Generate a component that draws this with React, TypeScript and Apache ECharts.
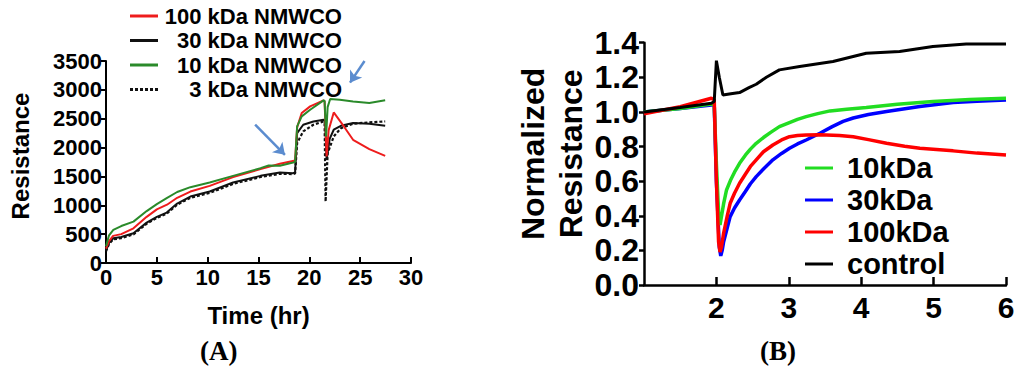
import React, { useEffect, useRef } from "react";
import * as echarts from "echarts";

// ---------- Panel A: Resistance vs Time (hr) ----------
const seriesNamesA = ["100 kDa NMWCO", "30 kDa NMWCO", "10 kDa NMWCO", "3 kDa NMWCO"];
const red100A: [number, number][] = [
  [0, 250], [0.3, 380], [0.7, 470], [1.5, 500], [2.7, 600], [4, 800], [5, 930], [6, 1010], [7, 1130],
  [8.3, 1238], [10.2, 1337], [12.5, 1488], [15.2, 1627], [17.1, 1719], [18.5, 1771], [18.6, 1780],
  [18.8, 2350], [19.25, 2598], [20.08, 2714], [21.4, 2818], [21.5, 2800], [21.7, 1845], [21.9, 2300],
  [22.4, 2609], [23.4, 2366], [24.3, 2135], [25.9, 1974], [27.46, 1857],
];
const black30A: [number, number][] = [
  [0, 220], [0.3, 350], [0.72, 428], [1.5, 450], [2.7, 515], [4, 700], [5, 800], [5.97, 874], [7, 1030],
  [8.3, 1152], [10.2, 1238], [12.5, 1394], [15.2, 1510], [17.1, 1568], [18.4, 1557], [18.6, 1570],
  [18.8, 2251], [19.4, 2396], [20.4, 2453], [21.4, 2483], [21.55, 2450], [21.7, 1788], [22, 2150],
  [22.4, 2309], [23.1, 2378], [24.3, 2425], [25.9, 2413], [27.46, 2378],
];
const green10A: [number, number][] = [
  [0, 290], [0.3, 480], [0.72, 573], [1.5, 640], [2.7, 717], [4, 900], [5, 1020], [5.97, 1123], [7, 1230],
  [8.3, 1314], [10.2, 1394], [12.5, 1510], [15.2, 1643], [16, 1690], [17.1, 1684], [18.4, 1741], [18.6, 1750],
  [18.8, 2366], [19.25, 2540], [20.08, 2656], [21.4, 2818], [21.5, 2810], [21.65, 2193], [21.8, 2700],
  [22.05, 2841], [23, 2830], [24.3, 2800], [25.9, 2772], [27.46, 2818],
];
const dashed3A: [number, number][] = [
  [0, 200], [0.3, 330], [0.72, 410], [1.5, 430], [2.7, 495], [4, 680], [5, 780], [5.97, 855], [7, 1010],
  [8.3, 1130], [10.2, 1215], [12.5, 1370], [15.2, 1490], [17.1, 1545], [18.4, 1540], [18.6, 1550],
  [18.8, 2078], [19.4, 2280], [20.4, 2396], [21.4, 2453], [21.5, 2420], [21.6, 1064], [21.8, 1900],
  [22.4, 2193], [23.1, 2336], [24.3, 2413], [25.9, 2437], [27.46, 2453],
];
// annotation arrows (start -> end), in data units of panel A
const arrowsA: [number, number, number, number][] = [
  [14.67, 2396, 17.6, 1875],
  [25.43, 3500, 24.0, 3125],
];

// ---------- Panel B: Normalized Resistance ----------
const seriesNamesB = ["10kDa", "30kDa", "100kDa", "control"];
const green10B: [number, number][] = [
  [1, 1.0], [1.5, 1.02], [1.93, 1.045], [1.97, 1.04], [2.0, 0.7], [2.03, 0.42], [2.05, 0.347], [2.08, 0.42],
  [2.1, 0.47], [2.14, 0.549], [2.2, 0.61], [2.26, 0.66], [2.32, 0.703], [2.4, 0.75], [2.47, 0.785],
  [2.55, 0.819], [2.65, 0.852], [2.75, 0.882], [2.87, 0.915], [3.0, 0.937], [3.12, 0.957], [3.24, 0.973],
  [3.4, 0.99], [3.57, 1.006], [3.8, 1.015], [4.07, 1.025], [4.5, 1.045], [4.99, 1.06], [5.5, 1.072], [6.0, 1.079],
];
const blue30B: [number, number][] = [
  [1, 1.0], [1.5, 1.02], [1.93, 1.04], [1.97, 1.04], [2.0, 0.6], [2.04, 0.22], [2.06, 0.168], [2.08, 0.2],
  [2.1, 0.25], [2.15, 0.33], [2.19, 0.395], [2.25, 0.445], [2.32, 0.491], [2.4, 0.54], [2.47, 0.585],
  [2.55, 0.626], [2.65, 0.67], [2.78, 0.723], [2.9, 0.76], [3.01, 0.79], [3.12, 0.815], [3.24, 0.838],
  [3.43, 0.877], [3.6, 0.915], [3.75, 0.945], [3.89, 0.965], [4.1, 0.985], [4.35, 1.002], [4.81, 1.031],
  [5.27, 1.054], [5.6, 1.062], [6.0, 1.069],
];
const red100B: [number, number][] = [
  [1, 0.99], [1.5, 1.03], [1.93, 1.079], [1.97, 1.07], [2.0, 0.6], [2.03, 0.25], [2.05, 0.19], [2.07, 0.22],
  [2.1, 0.3], [2.15, 0.4], [2.19, 0.472], [2.25, 0.53], [2.32, 0.588], [2.4, 0.64], [2.47, 0.685],
  [2.55, 0.723], [2.65, 0.77], [2.78, 0.809], [2.9, 0.838], [3.01, 0.857], [3.12, 0.864], [3.24, 0.867],
  [3.43, 0.868], [3.7, 0.864], [3.89, 0.857], [4.1, 0.84], [4.35, 0.819], [4.6, 0.802], [4.81, 0.79],
  [5.27, 0.775], [5.6, 0.762], [6.0, 0.751],
];
const controlB: [number, number][] = [
  [1, 1.0], [1.5, 1.025], [1.93, 1.05], [1.97, 1.06], [2.0, 1.296], [2.04, 1.2], [2.09, 1.098], [2.2, 1.105],
  [2.32, 1.112], [2.45, 1.14], [2.55, 1.16], [2.69, 1.2], [2.87, 1.243], [3.15, 1.262], [3.61, 1.291],
  [4.07, 1.339], [4.53, 1.349], [4.99, 1.378], [5.45, 1.393], [6.0, 1.393],
];

const FONT = "'Liberation Sans', Arial, sans-serif";
const SOLID_ICON = "path://M0,0H28V3H0Z";
const DOTTED_ICON =
  "path://M0,0h3v3h-3z M5,0h3v3h-3z M10,0h3v3h-3z M15,0h3v3h-3z M20,0h3v3h-3z M25,0h3v3h-3z";

export default function App() {
  const ref = useRef<HTMLDivElement>(null);

  useEffect(() => {
    document.body.style.margin = "0";
    if (!ref.current) return;
    const chart = echarts.init(ref.current, null, { renderer: "svg" });

    const axisLineStyle = (w: number) => ({ show: true, lineStyle: { color: "#000", width: w } });
    const boldText = (size: number) => ({
      fontFamily: FONT, fontWeight: "bold" as const, fontSize: size, color: "#000",
    });
    const lineSeries = (name: string, data: [number, number][], idx: number, color: string, width: number, extra: any = {}) => ({
      name, type: "line", xAxisIndex: idx, yAxisIndex: idx, data,
      showSymbol: false, symbol: "none",
      lineStyle: { color, width }, itemStyle: { color },
      ...extra,
    });

    const option: any = {
      animation: false,
      backgroundColor: "#fff",
      grid: [
        { left: 106, top: 61, width: 305, height: 202, containLabel: false },
        { left: 644, top: 42.7, right: 18, bottom: 100, containLabel: false },
      ],
      legend: [
        {
          data: seriesNamesA.map((n, i) => ({ name: n, icon: i === 3 ? DOTTED_ICON : SOLID_ICON })),
          orient: "vertical",
          left: 130,
          top: 5,
          padding: 0,
          itemWidth: 28,
          itemHeight: 3,
          itemGap: 2.5,
          formatter: "{r|{name}}",
          textStyle: {
            ...boldText(22),
            rich: { r: { ...boldText(22), width: 179, align: "right", lineHeight: 22 } },
          },
        },
        {
          data: seriesNamesB.map((n) => ({ name: n, icon: SOLID_ICON })),
          orient: "vertical",
          left: 805,
          top: 153.5,
          padding: 0,
          itemWidth: 28,
          itemHeight: 4,
          itemGap: 3,
          formatter: "{r|{name}}",
          textStyle: {
            ...boldText(29),
            rich: { r: { ...boldText(29), lineHeight: 29, padding: [0, 0, 0, 9] } },
          },
        },
      ],
      xAxis: [
        {
          gridIndex: 0, type: "value", min: 0, max: 30, interval: 5,
          name: "Time (hr)", nameLocation: "middle", nameGap: 40, nameTextStyle: boldText(24),
          axisLine: axisLineStyle(2), axisTick: { show: true, inside: true, length: 6, lineStyle: { color: "#000", width: 2 } },
          axisLabel: { ...boldText(22), margin: 3, formatter: (v: number) => String(v) }, splitLine: { show: false },
        },
        {
          gridIndex: 1, type: "value", min: 1, max: 6, interval: 1,
          axisLine: axisLineStyle(2.5), axisTick: { show: true, inside: true, length: 8, lineStyle: { color: "#000", width: 2.5 } },
          axisLabel: { ...boldText(30), margin: 7, showMinLabel: false, formatter: (v: number) => String(v) }, splitLine: { show: false },
        },
      ],
      yAxis: [
        {
          gridIndex: 0, type: "value", min: 0, max: 3500, interval: 500,
          name: "Resistance", nameLocation: "middle", nameGap: 74,
          nameTextStyle: { ...boldText(24), padding: [0, 0, 0, 12] },
          axisLine: axisLineStyle(2), axisTick: { show: true, length: 5, lineStyle: { color: "#000", width: 2 } },
          axisLabel: { ...boldText(22), margin: 4, formatter: (v: number) => String(v) }, splitLine: { show: false },
        },
        {
          gridIndex: 1, type: "value", min: 0, max: 1.4, interval: 0.2,
          name: "Normalized\nResistance", nameLocation: "middle", nameGap: 54,
          nameTextStyle: { ...boldText(32), lineHeight: 38, padding: [0, 0, 0, 20] },
          axisLine: axisLineStyle(2.5), axisTick: { show: true, length: 5, lineStyle: { color: "#000", width: 2.5 } },
          axisLabel: { ...boldText(32), margin: 5, formatter: (v: number) => v.toFixed(1) }, splitLine: { show: false },
        },
      ],
      series: [
        lineSeries(seriesNamesA[3], dashed3A, 0, "#111", 2.2, { lineStyle: { color: "#111", width: 2.2, type: [3, 2] } }),
        lineSeries(seriesNamesA[1], black30A, 0, "#111", 2),
        lineSeries(seriesNamesA[0], red100A, 0, "#ee1c1c", 2),
        lineSeries(seriesNamesA[2], green10A, 0, "#2a8a2a", 2, {
          markLine: {
            silent: true, symbol: ["none", "arrow"], symbolSize: 11,
            label: { show: false },
            lineStyle: { color: "#5b8ccf", width: 2.5, type: "solid" },
            data: arrowsA.map(([x1, y1, x2, y2]) => [{ coord: [x1, y1] }, { coord: [x2, y2] }]),
          },
        }),
        lineSeries(seriesNamesB[1], blue30B, 1, "#0000ff", 3.5),
        lineSeries(seriesNamesB[0], green10B, 1, "#22dd22", 3.5),
        lineSeries(seriesNamesB[2], red100B, 1, "#ff0000", 3.5),
        lineSeries(seriesNamesB[3], controlB, 1, "#000", 3),
      ],
      graphic: [
        {
          type: "text", left: 200, top: 337,
          style: { text: "(A)", font: "bold 27px 'Liberation Serif', 'Times New Roman', serif", fill: "#000" },
        },
        {
          type: "text", left: 760, top: 337,
          style: { text: "(B)", font: "bold 27px 'Liberation Serif', 'Times New Roman', serif", fill: "#000" },
        },
      ],
    };

    chart.setOption(option);
    return () => chart.dispose();
  }, []);

  return (
    <div
      ref={ref}
      style={{ position: "fixed", left: 0, top: 0, width: 1024, height: 385, background: "#fff" }}
    />
  );
}
